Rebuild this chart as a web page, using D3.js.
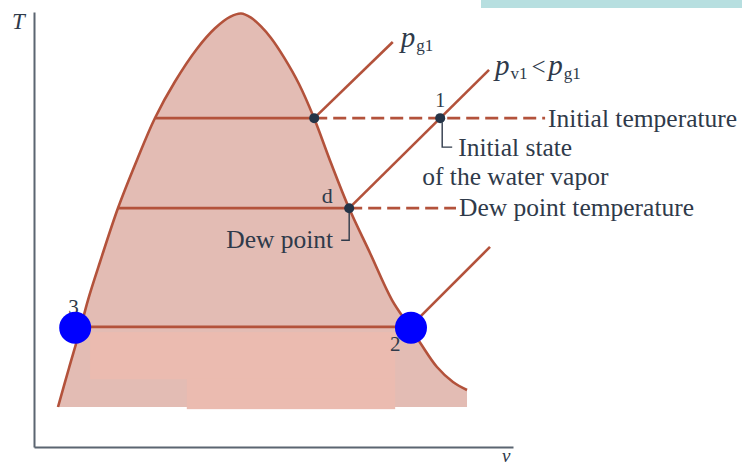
<!DOCTYPE html>
<html>
<head>
<meta charset="utf-8">
<script src="https://cdn.jsdelivr.net/npm/d3@7"></script>
<style>
  html, body { margin: 0; padding: 0; background: #ffffff; }
  svg { display: block; }
  text { font-family: "Liberation Serif", "DejaVu Serif", serif; fill: #2f3a4a; }
</style>
</head>
<body>
<svg id="chart" width="742" height="466"></svg>
<script>
// Saturation dome of water on a T–v diagram (arbitrary units, 0–100 on each axis)
const domeV = [5.01, 7.31, 9.60, 11.27, 13.78, 17.54, 21.50, 25.26, 29.44, 34.03, 37.79, 40.92,
               43.22, 45.30, 47.39, 49.48, 52.19, 55.32, 58.46, 62.00, 65.76, 70.15, 74.74,
               78.50, 80.79, 84.13, 87.47, 90.40];
const domeT = [9.20, 18.16, 26.90, 33.79, 42.53, 54.94, 65.98, 75.63, 84.02, 91.56, 96.25, 98.87,
               99.66, 98.69, 96.69, 94.02, 89.56, 83.45, 75.63, 65.29, 54.94, 44.60, 33.79,
               27.59, 23.68, 18.39, 14.94, 13.10];
const domeFloorT = 9.2;

// Isotherms across the dome: initial temperature, dew point temperature, state 2–3
const isoT      = [75.6, 54.9, 27.6];
const isoLeftV  = [25.3, 17.5, 9.8];
const isoRightV = [58.5, 65.8, 78.5];
// Dashed extensions of the first two isotherms out to their labels
const dashEndV  = [106.7, 88.1];
const dashNames = ["Initial temperature", "Dew point temperature"];

// Isobars in the superheated vapour region
const isobarStartV = [58.5, 65.8, 78.5];
const isobarStartT = [75.6, 54.9, 27.6];
const isobarEndV   = [74.9, 95.0, 95.2];
const isobarEndT   = [93.1, 86.7, 46.0];

// Marked states: saturation at T1, initial state 1, dew point d
const stateNames = ["g", "1", "d"];
const stateV = [58.5, 84.8, 65.8];
const stateT = [75.6, 75.6, 54.9];

// Highlighted end states 3 and 2
const endNames = ["3", "2"];
const endV = [8.6, 78.7];
const endT = [27.4, 27.4];

const svg = d3.select("#chart");
const x = d3.scaleLinear().domain([0, 100]).range([34, 513]);
const y = d3.scaleLinear().domain([0, 100]).range([447, 12]);

const lineColor = "#b3523b";
const textColor = "#2f3a4a";

// Band across the top edge
svg.append("rect").attr("x", 481).attr("y", 0).attr("width", 261).attr("height", 8)
  .attr("fill", "#b7dfe0");

// Axes (bare lines, no ticks)
svg.append("g").attr("transform", `translate(${x(0)},0)`)
  .call(d3.axisLeft(y).ticks(0).tickSizeOuter(0))
  .call(g => g.select(".domain").attr("stroke", "#5b6571").attr("stroke-width", 2));
svg.append("g").attr("transform", `translate(0,${y(0)})`)
  .call(d3.axisBottom(x).ticks(0).tickSizeOuter(0))
  .call(g => g.select(".domain").attr("stroke", "#5b6571").attr("stroke-width", 2));
svg.append("text").attr("x", x(0) - 22).attr("y", y(100) + 17)
  .attr("font-size", 23).attr("font-style", "italic").text("T");
svg.append("text").attr("x", x(100) - 11).attr("y", y(0) + 15)
  .attr("font-size", 19).attr("font-style", "italic").text("v");

// Dome fill and outline
const dome = domeV.map((v, i) => [v, domeT[i]]);
const curve = d3.curveCatmullRom.alpha(0.5);
svg.append("path").datum(dome)
  .attr("d", d3.area().x(d => x(d[0])).y1(d => y(d[1])).y0(y(domeFloorT)).curve(curve))
  .attr("fill", "#e3bcb4");

// Retouched band in the lower part of the dome
const patch = svg.append("g").attr("fill", "#ebbbb0");
patch.append("rect").attr("x", x(11.7)).attr("y", y(26.4))
  .attr("width", x(75.4) - x(11.7)).attr("height", y(15.6) - y(26.4));
patch.append("rect").attr("x", x(31.9)).attr("y", y(15.7))
  .attr("width", x(75.4) - x(31.9)).attr("height", y(8.7) - y(15.7));

svg.append("path").datum(dome)
  .attr("d", d3.line().x(d => x(d[0])).y(d => y(d[1])).curve(curve))
  .attr("fill", "none").attr("stroke", lineColor).attr("stroke-width", 2.6);

// Isotherms inside the dome
svg.append("g").selectAll("line").data(isoT).join("line")
  .attr("x1", (t, i) => x(isoLeftV[i])).attr("x2", (t, i) => x(isoRightV[i]))
  .attr("y1", t => y(t)).attr("y2", t => y(t))
  .attr("stroke", lineColor).attr("stroke-width", 2.8);

// Dashed extensions and their labels
svg.append("g").selectAll("line").data(dashEndV).join("line")
  .attr("x1", (v, i) => x(isoRightV[i])).attr("x2", v => x(v))
  .attr("y1", (v, i) => y(isoT[i])).attr("y2", (v, i) => y(isoT[i]))
  .attr("stroke", lineColor).attr("stroke-width", 2.8).attr("stroke-dasharray", "13 6");
svg.append("g").selectAll("text").data(dashNames).join("text")
  .attr("x", (s, i) => x(dashEndV[i]) + 3).attr("y", (s, i) => y(isoT[i]) + (i === 0 ? 9 : 8))
  .attr("font-size", 25.5).text(s => s);

// Isobars
svg.append("g").selectAll("line").data(isobarEndV).join("line")
  .attr("x1", (v, i) => x(isobarStartV[i])).attr("y1", (v, i) => y(isobarStartT[i]))
  .attr("x2", v => x(v)).attr("y2", (v, i) => y(isobarEndT[i]))
  .attr("stroke", lineColor).attr("stroke-width", 2.6);

// Pressure labels
function pressure(sel, sub) {
  sel.append("tspan").attr("font-style", "italic").attr("font-size", 29).attr("dy", 0).text("p");
  sel.append("tspan").attr("font-size", 17).attr("dy", 4).attr("dx", 1).text(sub);
  return sel;
}
const pg = svg.append("text").attr("x", x(isobarEndV[0]) + 8).attr("y", y(isobarEndT[0]) + 5);
pressure(pg, "g1");
const pv = svg.append("text").attr("x", x(isobarEndV[1]) + 6).attr("y", y(isobarEndT[1]) + 5);
pressure(pv, "v1");
pv.append("tspan").attr("font-size", 25).attr("dy", -4).attr("dx", 4).text("<");
pv.append("tspan").attr("font-size", 10).text(" ");
pressure(pv, "g1");

// State labels and leaders
const p1 = [x(stateV[1]), y(stateT[1])];
const pd = [x(stateV[2]), y(stateT[2])];
svg.append("text").attr("x", p1[0]).attr("y", p1[1] - 11).attr("text-anchor", "middle")
  .attr("font-size", 20).text(stateNames[1]);
svg.append("text").attr("x", pd[0] - 22).attr("y", pd[1] - 5).attr("text-anchor", "middle")
  .attr("font-size", 22).text(stateNames[2]);

const leader = d3.line();
svg.append("path").attr("d", leader([[p1[0] + 2, p1[1] + 4], [p1[0] + 2, p1[1] + 29], [p1[0] + 12, p1[1] + 29]]))
  .attr("fill", "none").attr("stroke", textColor).attr("stroke-width", 1.4);
svg.append("text").attr("x", p1[0] + 18).attr("y", p1[1] + 38).attr("font-size", 25.5).text("Initial state");
svg.append("text").attr("x", p1[0] - 18).attr("y", p1[1] + 67).attr("font-size", 25.5).text("of the water vapor");

svg.append("path").attr("d", leader([[pd[0], pd[1] + 4], [pd[0], pd[1] + 32], [pd[0] - 8, pd[1] + 32]]))
  .attr("fill", "none").attr("stroke", textColor).attr("stroke-width", 1.4);
svg.append("text").attr("x", pd[0] - 16).attr("y", pd[1] + 40).attr("text-anchor", "end")
  .attr("font-size", 25.5).text("Dew point");

// State dots
svg.append("g").selectAll("circle").data(stateV).join("circle")
  .attr("cx", v => x(v)).attr("cy", (v, i) => y(stateT[i])).attr("r", 5)
  .attr("fill", "#243447");

// End states 3 and 2
svg.append("g").selectAll("text").data(endNames).join("text")
  .attr("x", (s, i) => x(endV[i]) + (i === 0 ? -7 : -21))
  .attr("y", (s, i) => y(endT[i]) + (i === 0 ? -14 : 23))
  .attr("font-size", 21).attr("fill", "#555b63").text(s => s);
svg.append("g").selectAll("circle").data(endV).join("circle")
  .attr("cx", v => x(v)).attr("cy", (v, i) => y(endT[i])).attr("r", 16)
  .attr("fill", "#0000ff");
</script>
</body>
</html>
